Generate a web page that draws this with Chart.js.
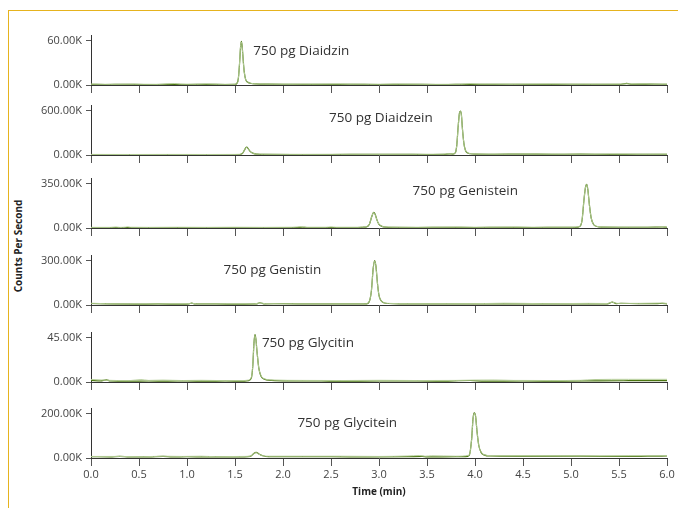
<!DOCTYPE html>
<html>
<head>
<meta charset="utf-8">
<script src="https://cdn.jsdelivr.net/npm/chart.js@4.4.1/dist/chart.umd.min.js"></script>
<style>
  html, body { margin: 0; padding: 0; background: #fff; }
  #wrap { position: relative; width: 678px; height: 508px; overflow: hidden; font-family: "Open Sans", sans-serif; }
  #frame { position: absolute; left: 8px; top: 10px; width: 700px; height: 520px;
           border-left: 1.5px solid #e6b31e; border-top: 1.5px solid #e6b31e; }
  #wrap canvas { position: absolute; left: 0; }
  #ytitle { position: absolute; left: 18px; top: 246px; transform: translate(-50%, -50%) rotate(-90deg);
            font-weight: bold; font-size: 10px; color: #222; white-space: nowrap; }
</style>
</head>
<body>
<div id="wrap">
  <div id="frame"></div>
  <div id="ytitle">Counts Per Second</div>
</div>
<script>
// compound labels and y axis top tick (values in K counts)
const compounds = ["750 pg Diaidzin", "750 pg Diaidzein", "750 pg Genistein", "750 pg Genistin", "750 pg Glycitin", "750 pg Glycitein"];
const topTicks = [60, 600, 350, 300, 45, 200];
const xTicks = [0.0, 0.5, 1.0, 1.5, 2.0, 2.5, 3.0, 3.5, 4.0, 4.5, 5.0, 5.5, 6.0];

// traces: [time (min), counts (K)]
const diaidzinDark = [[0,0.9],[0.15,0.7],[0.35,0.9],[0.55,0.6],[0.8,0.8],[1.0,0.7],[1.2,0.9],[1.4,0.6],[1.5,0.8],[1.52,2.2],[1.535,9],[1.548,30],[1.558,51],[1.566,59],[1.574,53],[1.584,36],[1.596,18],[1.61,8],[1.63,4],[1.66,2.3],[1.72,1.4],[1.85,1.1],[2.1,1.0],[2.4,0.8],[2.7,1.0],[3.0,0.7],[3.3,0.9],[3.6,0.6],[3.8,0.8],[4.1,0.9],[4.4,1.0],[4.7,0.8],[5.0,1.0],[5.3,0.8],[5.52,0.9],[5.58,2.2],[5.63,1.0],[5.8,1.1],[6.0,1.0]];
const diaidzinLight = [[0,1.2],[0.2,0.9],[0.45,1.1],[0.7,0.9],[0.8,1.6],[0.87,2.0],[0.93,1.2],[1.1,1.0],[1.2,1.5],[1.32,1.0],[1.5,0.9],[1.52,2.0],[1.535,9],[1.548,31],[1.558,52],[1.566,58],[1.574,52],[1.584,35],[1.596,18],[1.61,8],[1.63,4],[1.66,2.5],[1.72,1.6],[1.9,1.3],[2.3,1.1],[2.6,1.4],[2.9,1.0],[3.2,1.2],[3.5,0.9],[3.85,1.0],[3.95,1.8],[4.05,1.2],[4.4,1.1],[4.8,1.3],[5.2,1.0],[5.5,1.1],[5.6,1.6],[5.78,1.8],[5.85,1.2],[6.0,1.3]];

const diaidzeinDark = [[0,6],[0.3,5],[0.6,6],[0.9,5],[1.2,6],[1.45,5],[1.55,7],[1.58,25],[1.6,70],[1.62,105],[1.64,80],[1.66,45],[1.69,22],[1.73,12],[1.8,8],[2.1,7],[2.5,7],[2.9,8],[3.2,8],[3.5,7],[3.68,9],[3.73,16],[3.77,13],[3.795,30],[3.81,130],[3.825,390],[3.838,565],[3.848,592],[3.858,545],[3.87,340],[3.885,150],[3.9,65],[3.92,30],[3.95,17],[4.0,11],[4.2,10],[4.5,11],[4.8,10],[5.1,11],[5.4,9],[5.7,10],[6.0,10]];
const diaidzeinLight = [[0,8],[0.4,7],[0.8,8],[1.2,7],[1.5,8],[1.56,10],[1.58,26],[1.6,72],[1.62,104],[1.64,78],[1.66,44],[1.69,22],[1.73,13],[1.8,10],[2.2,9],[2.6,10],[3.0,9],[3.4,10],[3.68,11],[3.73,18],[3.77,15],[3.795,32],[3.81,128],[3.825,385],[3.838,560],[3.848,588],[3.858,540],[3.87,335],[3.885,148],[3.9,66],[3.92,32],[3.95,19],[4.0,13],[4.3,12],[4.7,14],[5.0,12],[5.4,13],[5.8,12],[6.0,13]];

const genisteinDark = [[0,3],[0.2,4],[0.35,3],[0.5,4],[0.75,3],[1.0,4],[1.3,3],[1.6,4],[1.9,3],[2.15,4],[2.2,6],[2.25,4],[2.5,3],[2.75,4],[2.83,6],[2.87,9],[2.9,30],[2.925,90],[2.945,123],[2.96,108],[2.98,60],[3.0,28],[3.03,13],[3.07,7],[3.15,5],[3.4,4],[3.7,5],[4.0,4],[4.3,5],[4.6,4],[4.9,5],[5.05,5],[5.09,11],[5.115,60],[5.135,220],[5.152,325],[5.163,343],[5.175,305],[5.192,180],[5.21,80],[5.235,28],[5.27,12],[5.32,7],[5.5,6],[5.8,6],[5.95,8],[6.0,5]];
const genisteinLight = [[0,5],[0.2,5],[0.26,8],[0.3,5],[0.36,7],[0.38,10],[0.41,6],[0.6,5],[0.9,6],[1.2,5],[1.5,6],[1.8,5],[2.1,6],[2.19,10],[2.24,6],[2.45,6],[2.5,9],[2.55,6],[2.8,6],[2.83,8],[2.87,11],[2.9,32],[2.925,92],[2.945,122],[2.96,106],[2.98,60],[3.0,29],[3.03,14],[3.07,8],[3.2,6],[3.5,6],[3.8,7],[4.1,6],[4.4,7],[4.7,6],[5.0,6],[5.09,12],[5.115,62],[5.135,222],[5.152,324],[5.163,341],[5.175,303],[5.192,178],[5.21,80],[5.235,29],[5.27,13],[5.32,8],[5.6,7],[5.9,7],[5.97,9],[6.0,7]];

const genistinDark = [[0,10],[0.2,7],[0.45,6],[0.7,7],[0.95,6],[1.02,8],[1.05,13],[1.08,7],[1.3,7],[1.55,6],[1.72,7],[1.76,15],[1.8,8],[2.0,9],[2.3,7],[2.6,7],[2.85,7],[2.89,14],[2.92,90],[2.94,250],[2.955,300],[2.968,262],[2.985,140],[3.0,65],[3.02,30],[3.05,15],[3.1,10],[3.25,8],[3.6,7],[4.0,7],[4.4,8],[4.8,7],[5.15,8],[5.38,8],[5.43,20],[5.47,9],[5.52,11],[5.7,9],[5.9,9],[5.95,11],[6.0,8]];
const genistinLight = [[0,12],[0.15,9],[0.4,7],[0.75,8],[1.0,8],[1.05,12],[1.1,8],[1.4,8],[1.7,8],[1.76,13],[1.82,9],[2.1,8],[2.5,8],[2.85,8],[2.89,15],[2.92,92],[2.94,248],[2.955,297],[2.968,258],[2.985,138],[3.0,64],[3.02,30],[3.05,16],[3.1,11],[3.3,9],[3.7,9],[4.1,10],[4.3,12],[4.5,11],[4.7,9],[5.0,10],[5.18,11],[5.38,10],[5.43,19],[5.48,11],[5.7,11],[5.93,13],[6.0,11]];

const glycitinDark = [[0,1.6],[0.1,1.2],[0.16,2.2],[0.2,1.0],[0.4,0.8],[0.6,1.0],[0.8,0.9],[1.0,1.1],[1.2,0.8],[1.4,1.0],[1.6,0.9],[1.64,1.3],[1.67,4],[1.685,16],[1.698,40],[1.708,48],[1.717,44],[1.73,30],[1.748,14],[1.77,6],[1.8,3],[1.88,1.6],[2.1,1.1],[2.4,1.0],[2.8,0.9],[3.2,1.1],[3.6,0.9],[3.95,1.5],[4.1,0.9],[4.5,1.0],[4.9,0.9],[5.3,1.2],[5.6,1.3],[6.0,1.4]];
const glycitinLight = [[0,2.6],[0.15,1.8],[0.4,1.4],[0.52,2.4],[0.6,1.6],[0.75,1.9],[0.95,1.5],[1.15,1.7],[1.4,1.4],[1.6,1.5],[1.64,1.9],[1.67,4.5],[1.685,17],[1.698,40],[1.708,47],[1.717,43],[1.73,30],[1.748,14],[1.77,6.5],[1.8,3.5],[1.9,2.0],[2.2,1.6],[2.6,1.5],[3.0,1.7],[3.4,1.5],[3.8,1.6],[4.0,1.9],[4.2,2.0],[4.4,1.6],[4.8,1.5],[5.1,1.7],[5.25,2.5],[5.6,2.7],[6.0,2.7]];

const glyciteinDark = [[0,6],[0.2,5],[0.3,7],[0.4,5],[0.6,5],[0.75,7],[0.85,5],[1.0,6],[1.2,5],[1.4,5],[1.6,5],[1.66,7],[1.69,18],[1.72,25],[1.75,18],[1.79,10],[1.85,6],[2.1,6],[2.5,6],[2.9,5],[3.3,6],[3.45,7],[3.5,5],[3.8,6],[3.9,6],[3.94,12],[3.965,85],[3.98,180],[3.993,203],[4.006,188],[4.022,115],[4.04,55],[4.065,24],[4.1,13],[4.15,9],[4.4,8],[4.8,8],[5.1,8],[5.5,7],[5.8,8],[6.0,9]];
const glyciteinLight = [[0,7],[0.3,7],[0.55,6],[0.75,8],[0.95,7],[1.15,8],[1.3,6],[1.55,7],[1.66,8],[1.69,18],[1.72,24],[1.75,17],[1.79,10],[1.85,8],[2.2,8],[2.6,8],[3.0,7],[3.3,9],[3.42,11],[3.48,8],[3.55,10],[3.8,8],[3.94,13],[3.965,84],[3.98,178],[3.993,200],[4.006,186],[4.022,114],[4.04,55],[4.065,25],[4.1,14],[4.2,10],[4.5,11],[4.9,10],[5.3,9],[5.6,10],[6.0,10]];

const darkTraces = [diaidzinDark, diaidzeinDark, genisteinDark, genistinDark, glycitinDark, glyciteinDark];
const lightTraces = [diaidzinLight, diaidzeinLight, genisteinLight, genistinLight, glycitinLight, glyciteinLight];

// where the compound text sits, in [time, K counts]
const labelAt = [[1.69, 45], [2.48, 497], [3.35, 288], [1.38, 232], [1.78, 39], [2.15, 156]];

// layout: pixel row of each panel baseline
const baselines = [85, 155, 228, 305, 382, 458];
const areaH = 54, padTop = 6;

Chart.defaults.font.family = '"Open Sans", sans-serif';
Chart.defaults.color = "#444";

const peakLabel = {
  id: "peakLabel",
  afterDatasetsDraw(chart, args, opts) {
    const { ctx, scales: { x, y } } = chart;
    ctx.save();
    ctx.font = '13.5px "Open Sans", sans-serif';
    ctx.fillStyle = "#333";
    ctx.textBaseline = "middle";
    ctx.fillText(opts.text, x.getPixelForValue(opts.at[0]), y.getPixelForValue(opts.at[1]));
    ctx.restore();
  }
};

const wrap = document.getElementById("wrap");
const toXY = arr => arr.map(p => ({ x: p[0], y: p[1] }));

baselines.forEach((base, i) => {
  const last = i === baselines.length - 1;
  const xH = last ? 40 : 12;
  const cv = document.createElement("canvas");
  cv.width = 678;
  cv.height = padTop + areaH + xH;
  cv.style.top = (base - areaH - padTop) + "px";
  wrap.appendChild(cv);

  new Chart(cv, {
    type: "line",
    data: {
      datasets: [
        { data: toXY(lightTraces[i]), borderColor: "#b3cc96", borderWidth: 1, pointRadius: 0, cubicInterpolationMode: "monotone" },
        { data: toXY(darkTraces[i]), borderColor: "#4a7510", borderWidth: 1.2, pointRadius: 0, cubicInterpolationMode: "monotone" }
      ]
    },
    options: {
      responsive: false,
      animation: false,
      events: [],
      layout: { padding: { top: padTop, right: 11, left: 0, bottom: 0 } },
      plugins: {
        legend: { display: false },
        tooltip: { enabled: false },
        peakLabel: { text: compounds[i], at: labelAt[i] }
      },
      scales: {
        x: {
          type: "linear",
          min: 0,
          max: 6,
          afterBuildTicks: s => { s.ticks = xTicks.map(v => ({ value: v })); },
          afterFit: s => { s.height = xH; },
          grid: { drawOnChartArea: false, tickLength: 8, color: "#555" },
          border: { color: "#333", width: 1 },
          ticks: {
            display: last,
            padding: 2,
            font: { size: 11 },
            color: "#444",
            maxRotation: 0,
            callback: v => v.toFixed(1)
          },
          title: {
            display: last,
            text: "Time (min)",
            font: { size: 10, weight: "bold" },
            color: "#222",
            padding: 0
          }
        },
        y: {
          min: 0,
          max: topTicks[i] * 1.11,
          afterBuildTicks: s => { s.ticks = [{ value: 0 }, { value: topTicks[i] }]; },
          afterFit: s => { s.width = 91; },
          grid: { drawOnChartArea: false, tickLength: 5, color: "#555" },
          border: { color: "#333", width: 1 },
          ticks: {
            padding: 4,
            font: { size: 11 },
            color: "#444",
            callback: v => v.toFixed(2) + "K"
          }
        }
      }
    },
    plugins: [peakLabel]
  });
});
</script>
</body>
</html>
